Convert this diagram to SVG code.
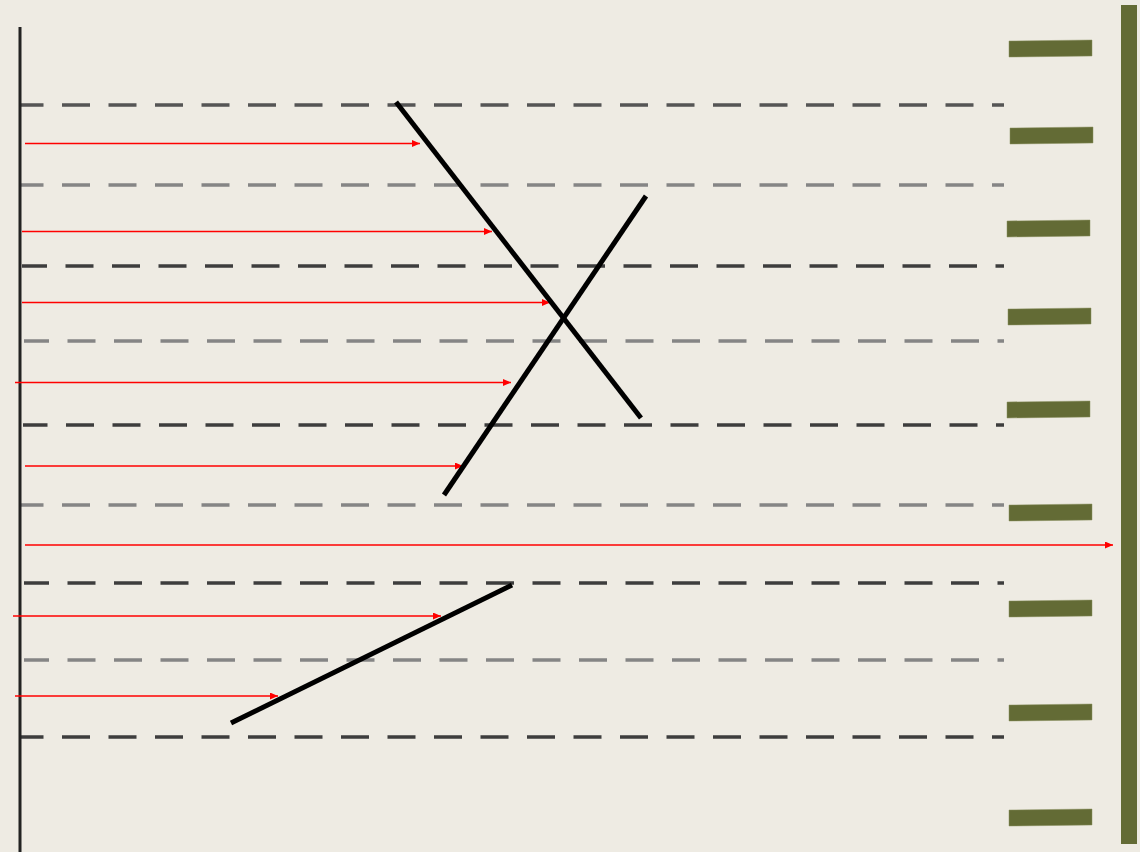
<svg xmlns="http://www.w3.org/2000/svg" width="1140" height="852" viewBox="0 0 1140 852">
  <defs>
    <filter id="soft" filterUnits="userSpaceOnUse" x="0" y="0" width="1140" height="852">
      <feGaussianBlur stdDeviation="0.7"/>
    </filter>
    <marker id="ah" markerUnits="userSpaceOnUse" markerWidth="10" markerHeight="10" refX="8" refY="3.5" orient="auto">
      <path d="M0,0 L8,3.5 L0,7 Z" fill="#ff0000"/>
    </marker>
  </defs>
  <style>
    .dash { fill: none; stroke-width: 3.6; stroke-dasharray: 28 18.5; }
    .dk { stroke: #3c3c3c; }
    .md { stroke: #555555; }
    .lt { stroke: #858585; }
    .ray { stroke: #ff0000; stroke-width: 1.3; fill: none; marker-end: url(#ah); }
    .mirror { stroke: #000000; stroke-width: 5; fill: none; }
    .tick { fill: #636b35; stroke: #8a9060; stroke-width: 0.5; }
  </style>
  <rect x="0" y="0" width="1140" height="852" fill="#eeebe3"/>

  <g id="dashed-lines" filter="url(#soft)">
    <line class="dash md" x1="20" y1="105" x2="1004" y2="105" stroke-dashoffset="4.5"/>
    <line class="dash lt" x1="20" y1="185" x2="1004" y2="185" stroke-dashoffset="4.5"/>
    <line class="dash dk" x1="22" y1="266" x2="1004" y2="266" stroke-dashoffset="3"/>
    <line class="dash lt" x1="24" y1="341" x2="1004" y2="341" stroke-dashoffset="3"/>
    <line class="dash dk" x1="23" y1="425" x2="1004" y2="425" stroke-dashoffset="3.5"/>
    <line class="dash lt" x1="20" y1="505" x2="1004" y2="505" stroke-dashoffset="4.5"/>
    <line class="dash dk" x1="24" y1="583" x2="1004" y2="583" stroke-dashoffset="3"/>
    <line class="dash lt" x1="24" y1="660" x2="1004" y2="660" stroke-dashoffset="3"/>
    <line class="dash dk" x1="20" y1="737" x2="1004" y2="737" stroke-dashoffset="4.5"/>
  </g>

  <g id="left-wall">
    <line x1="20" y1="27" x2="20" y2="852" stroke="#222222" stroke-width="3"/>
  </g>

  <g id="right-wall">
    <rect x="1121" y="5" width="16" height="839" fill="#636b35"/>
    <polygon class="tick" points="1009,41 1092,40 1092,56 1009,57"/>
    <polygon class="tick" points="1010,128 1093,127 1093,143 1010,144"/>
    <polygon class="tick" points="1007,221 1090,220 1090,236 1007,237"/>
    <polygon class="tick" points="1008,309 1091,308 1091,324 1008,325"/>
    <polygon class="tick" points="1007,402 1090,401 1090,417 1007,418"/>
    <polygon class="tick" points="1009,505 1092,504 1092,520 1009,521"/>
    <polygon class="tick" points="1009,601 1092,600 1092,616 1009,617"/>
    <polygon class="tick" points="1009,705 1092,704 1092,720 1009,721"/>
    <polygon class="tick" points="1009,810 1092,809 1092,825 1009,826"/>
  </g>

  <g id="connectors">
    <line class="ray" x1="25" y1="143.5" x2="420" y2="143.5"/>
    <line class="ray" x1="22" y1="231.5" x2="492" y2="231.5"/>
    <line class="ray" x1="22" y1="302.5" x2="550" y2="302.5"/>
    <line class="ray" x1="15" y1="382.5" x2="511" y2="382.5"/>
    <line class="ray" x1="25" y1="466" x2="463" y2="466"/>
    <line class="ray" x1="25" y1="545" x2="1113" y2="545"/>
    <line class="ray" x1="13" y1="616" x2="441" y2="616"/>
    <line class="ray" x1="15" y1="696" x2="278" y2="696"/>
  </g>

  <g id="mirrors">
    <line id="mirror-a" class="mirror" x1="396" y1="102" x2="641" y2="418"/>
    <line id="mirror-b" class="mirror" x1="646" y1="196" x2="444" y2="495"/>
    <line id="mirror-c" class="mirror" x1="231" y1="723" x2="512" y2="585"/>
  </g>
</svg>
